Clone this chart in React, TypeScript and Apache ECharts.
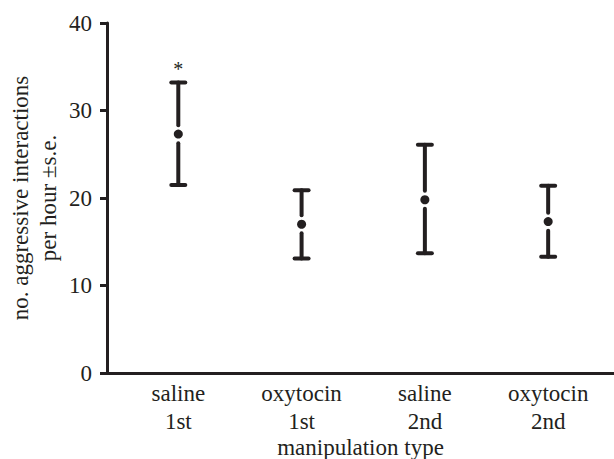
import React, { useEffect, useRef } from "react";
import * as echarts from "echarts";

const categories = ["saline\n1st", "oxytocin\n1st", "saline\n2nd", "oxytocin\n2nd"];
const means = [27.3, 17.0, 19.8, 17.3];
const lowers = [21.5, 13.1, 13.7, 13.3];
const uppers = [33.2, 20.9, 26.1, 21.4];
const marks = ["*", "", "", ""];
const yTicks = [0, 10, 20, 30, 40];

const INK = "#231f20";
const FONT = "Liberation Serif";
const FS = 23;

export default function App() {
  const ref = useRef<HTMLDivElement>(null);
  useEffect(() => {
    if (!ref.current) return;
    const chart = echarts.init(ref.current, null, { renderer: "svg" });
    const data = categories.map((_, i) => [i + 1, means[i], lowers[i], uppers[i]]);
    chart.setOption({
      animation: false,
      backgroundColor: "#ffffff",
      grid: { left: 107, right: 0, top: 23, bottom: 86, containLabel: false, outerBoundsMode: "none" },
      xAxis: {
        type: "value",
        min: 0.4217,
        max: 4.534,
        name: "manipulation type",
        nameLocation: "middle",
        nameGap: 63,
        nameMoveOverlap: false,
        nameTextStyle: { fontFamily: FONT, fontSize: FS, color: INK, lineHeight: 22 },
        axisLine: { show: true, lineStyle: { color: INK, width: 3 } },
        axisTick: { show: false },
        splitLine: { show: false },
        axisLabel: {
          customValues: [1, 2, 3, 4],
          formatter: (v: number) => categories[Math.round(v) - 1] ?? "",
          fontFamily: FONT,
          fontSize: FS,
          lineHeight: 28,
          color: INK,
          margin: 6,
        },
      },
      yAxis: {
        type: "value",
        min: 0,
        max: 40,
        interval: 10,
        name: "no. aggressive interactions\nper hour ±s.e.",
        nameLocation: "middle",
        nameGap: 45,
        nameMoveOverlap: false,
        nameTextStyle: { fontFamily: FONT, fontSize: FS, color: INK, lineHeight: 28 },
        axisLine: { show: true, lineStyle: { color: INK, width: 3 } },
        axisTick: { show: true, length: 7, lineStyle: { color: INK, width: 3 } },
        splitLine: { show: false },
        axisLabel: {
          customValues: yTicks,
          fontFamily: FONT,
          fontSize: FS,
          color: INK,
          margin: 15,
        },
      },
      series: [
        {
          type: "custom",
          data,
          encode: { x: 0, y: [1, 2, 3] },
          renderItem: (params: any, api: any) => {
            const x = api.value(0);
            const pm = api.coord([x, api.value(1)]);
            const pl = api.coord([x, api.value(2)]);
            const ph = api.coord([x, api.value(3)]);
            const cap = 7;
            const gap = 9;
            const st = { stroke: INK, lineWidth: 4, lineCap: "round" };
            const children: any[] = [
              { type: "line", shape: { x1: ph[0] - cap, y1: ph[1], x2: ph[0] + cap, y2: ph[1] }, style: st },
              { type: "line", shape: { x1: pl[0] - cap, y1: pl[1], x2: pl[0] + cap, y2: pl[1] }, style: st },
              { type: "line", shape: { x1: ph[0], y1: ph[1], x2: pm[0], y2: pm[1] - gap }, style: st },
              { type: "line", shape: { x1: pm[0], y1: pm[1] + gap, x2: pl[0], y2: pl[1] }, style: st },
              { type: "circle", shape: { cx: pm[0], cy: pm[1], r: 4.5 }, style: { fill: INK } },
            ];
            const mk = marks[params.dataIndex];
            if (mk) {
              children.push({
                type: "text",
                x: ph[0],
                y: ph[1] - 4,
                style: {
                  text: mk,
                  fontFamily: FONT,
                  fontSize: 20,
                  fill: INK,
                  align: "center",
                  verticalAlign: "bottom",
                },
              });
            }
            return { type: "group", children };
          },
        },
      ],
    });
    return () => chart.dispose();
  }, []);
  return (
    <div
      ref={ref}
      style={{ position: "fixed", left: 0, top: 0, width: 614, height: 459, background: "#fff" }}
    />
  );
}
